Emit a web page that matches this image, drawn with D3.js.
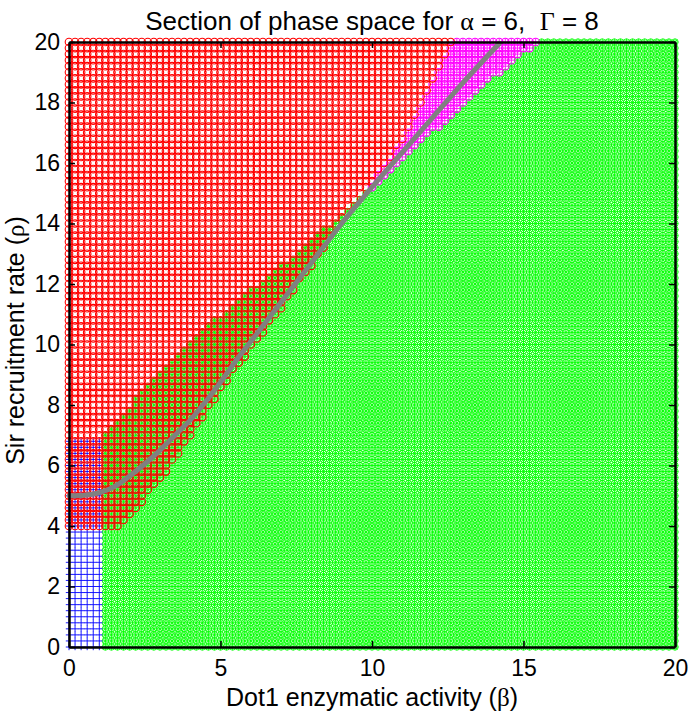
<!DOCTYPE html>
<html>
<head>
<meta charset="utf-8">
<script src="https://cdn.jsdelivr.net/npm/d3@7"></script>
<style>
  body { margin: 0; background: #fff; }
  text { font-family: "Liberation Sans", Arial, sans-serif; white-space: pre; }
</style>
</head>
<body>
<div id="chart"></div>
<script>
// sampling grid of the parameter scan (step 0.2)
const betaGrid = d3.range(0, 101).map(i => i * 0.2);
const rhoGrid = d3.range(0, 101).map(i => i * 0.2);

// lower edge of the red region (rho as a function of beta)
const redLowBeta = [0, 1.7, 2.0, 3.3, 5.6, 7.0, 8.3, 9.0, 9.8, 11.15, 12.6, 12.65];
const redLowRho  = [3.95, 3.95, 4.3, 5.9, 9.3, 11.2, 13.0, 14.2, 15.1, 16.9, 20.0, 25];

// upper edge of the green region
const greenUpBeta = [1.1, 3.3, 5.3, 7.0, 8.05, 8.7, 9.8, 11.9, 14.1, 15.45, 15.5];
const greenUpRho  = [6.9, 9.5, 11.25, 12.6, 13.55, 14.05, 15.0, 16.93, 18.9, 20.0, 25];
const greenMinBeta = 1.1;

// blue block in the corner
const blueMaxBeta = 1.05;
const blueMaxRho = 6.9;

// grey curve
const curveBeta = [0, 0.5, 1.0, 1.5, 2.0, 2.5, 3.0, 3.5, 4.0, 4.5, 5.0, 5.5, 6.0, 7.0, 8.0, 9.0, 10.0, 11.0, 12.0, 13.0, 14.2];
const curveRho  = [5.0, 5.02, 5.1, 5.3, 5.65, 6.05, 6.5, 7.0, 7.5, 8.1, 8.75, 9.45, 10.1, 11.4, 12.7, 14.0, 15.2, 16.35, 17.5, 18.65, 19.95];

const xTicks = [0, 5, 10, 15, 20];
const yTicks = [0, 2, 4, 6, 8, 10, 12, 14, 16, 18, 20];

const width = 692, height = 714;
const margin = { top: 42, right: 17, bottom: 67, left: 69 };

const svg = d3.select("#chart").append("svg")
  .attr("width", width)
  .attr("height", height);

const x = d3.scaleLinear().domain([0, 20]).range([margin.left, width - margin.right]);
const y = d3.scaleLinear().domain([0, 20]).range([height - margin.bottom, margin.top]);

// boundaries as piecewise-linear scales
const redLow = d3.scaleLinear().domain(redLowBeta).range(redLowRho).clamp(true);
const greenUp = d3.scaleLinear().domain(greenUpBeta).range(greenUpRho).clamp(true);

const eps = 1e-6;
const pts = { red: [], green: [], blue: [], magenta: [] };
betaGrid.forEach(b => {
  rhoGrid.forEach(r => {
    const isRed = r >= redLow(b) - eps;
    const isGreen = b >= greenMinBeta && r <= greenUp(b) + eps;
    const isBlue = b <= blueMaxBeta && r <= blueMaxRho;
    if (isRed) pts.red.push([b, r]);
    if (isGreen) pts.green.push([b, r]);
    if (isBlue) pts.blue.push([b, r]);
    if (!isRed && !isGreen && !isBlue) pts.magenta.push([b, r]);
  });
});

// marker path builders
function circles(data, rad) {
  const p = d3.path();
  data.forEach(d => {
    const cx = x(d[0]), cy = y(d[1]);
    p.moveTo(cx + rad, cy);
    p.arc(cx, cy, rad, 0, 2 * Math.PI);
  });
  return p.toString();
}
function pluses(data, h) {
  const p = d3.path();
  data.forEach(d => {
    const cx = x(d[0]), cy = y(d[1]);
    p.moveTo(cx - h, cy); p.lineTo(cx + h, cy);
    p.moveTo(cx, cy - h); p.lineTo(cx, cy + h);
  });
  return p.toString();
}
function crosses(data, h) {
  const p = d3.path();
  data.forEach(d => {
    const cx = x(d[0]), cy = y(d[1]);
    p.moveTo(cx - h, cy - h); p.lineTo(cx + h, cy + h);
    p.moveTo(cx - h, cy + h); p.lineTo(cx + h, cy - h);
  });
  return p.toString();
}

const marks = svg.append("g").attr("fill", "none");

// green states
marks.append("path").attr("d", pluses(pts.green, 3.2)).attr("stroke", "#00ff00").attr("stroke-width", 0.9);
marks.append("path").attr("d", crosses(pts.green, 2.3)).attr("stroke", "#00ff00").attr("stroke-width", 0.9);
marks.append("path").attr("d", circles(pts.green, 3.2)).attr("stroke", "#00ff00").attr("stroke-width", 0.9);

// blue
marks.append("path").attr("d", pluses(pts.blue, 3.2)).attr("stroke", "#0000ff").attr("stroke-width", 0.9);

// magenta
marks.append("path").attr("d", circles(pts.magenta, 3.8)).attr("stroke", "#ff00ff").attr("stroke-width", 1.1);
marks.append("path").attr("d", pluses(pts.magenta, 3.2)).attr("stroke", "#ff00ff").attr("stroke-width", 0.9);

// red
marks.append("path").attr("d", circles(pts.red, 3.8)).attr("stroke", "#ff0000").attr("stroke-width", 1.1);

// grey curve
const line = d3.line()
  .x((d, i) => x(curveBeta[i]))
  .y(d => y(d))
  .curve(d3.curveMonotoneX);

svg.append("path")
  .attr("d", line(curveRho))
  .attr("fill", "none")
  .attr("stroke", "#808080")
  .attr("stroke-width", 5)
  .attr("stroke-linecap", "round");

// axes (ticks point inward, box on all sides)
const tickLen = 6;
function styleAxis(g) {
  g.select(".domain").attr("stroke", "#000").attr("stroke-width", 2.5);
  g.selectAll(".tick line").attr("stroke", "#000").attr("stroke-width", 1.5);
  g.selectAll(".tick text").attr("font-size", 23).attr("fill", "#000")
    .attr("font-family", "'Liberation Sans', Arial, sans-serif");
}

svg.append("g")
  .attr("transform", "translate(0," + y(0) + ")")
  .call(d3.axisBottom(x).tickValues(xTicks).tickSizeInner(-tickLen).tickSizeOuter(0).tickPadding(13))
  .call(styleAxis);

svg.append("g")
  .attr("transform", "translate(0," + y(20) + ")")
  .call(d3.axisTop(x).tickValues(xTicks).tickSizeInner(-tickLen).tickSizeOuter(0).tickFormat(""))
  .call(styleAxis);

svg.append("g")
  .attr("transform", "translate(" + x(0) + ",0)")
  .call(d3.axisLeft(y).tickValues(yTicks).tickSizeInner(-tickLen).tickSizeOuter(0).tickPadding(9))
  .call(styleAxis);

svg.append("g")
  .attr("transform", "translate(" + x(20) + ",0)")
  .call(d3.axisRight(y).tickValues(yTicks).tickSizeInner(-tickLen).tickSizeOuter(0).tickFormat(""))
  .call(styleAxis);

// title and axis labels
const cx = (x(0) + x(20)) / 2;
const cy = (y(0) + y(20)) / 2;
const greek = "'Liberation Serif', 'DejaVu Serif', serif";

const title = svg.append("text")
  .attr("x", cx).attr("y", 30)
  .attr("text-anchor", "middle")
  .attr("font-size", 26);
title.append("tspan").text("Section of phase space for ");
title.append("tspan").attr("font-family", greek).text("α");
title.append("tspan").text(" = 6,  ");
title.append("tspan").attr("font-family", greek).text("Γ");
title.append("tspan").text(" = 8");

const xl = svg.append("text")
  .attr("x", cx).attr("y", 706)
  .attr("text-anchor", "middle")
  .attr("font-size", 25);
xl.append("tspan").text("Dot1 enzymatic activity (");
xl.append("tspan").attr("font-family", greek).text("β");
xl.append("tspan").text(")");

const yl = svg.append("text")
  .attr("transform", "translate(24," + (cy - 4) + ") rotate(-90)")
  .attr("text-anchor", "middle")
  .attr("font-size", 25);
yl.append("tspan").text("Sir recruitment rate (");
yl.append("tspan").attr("font-family", greek).text("ρ");
yl.append("tspan").text(")");
</script>
</body>
</html>
